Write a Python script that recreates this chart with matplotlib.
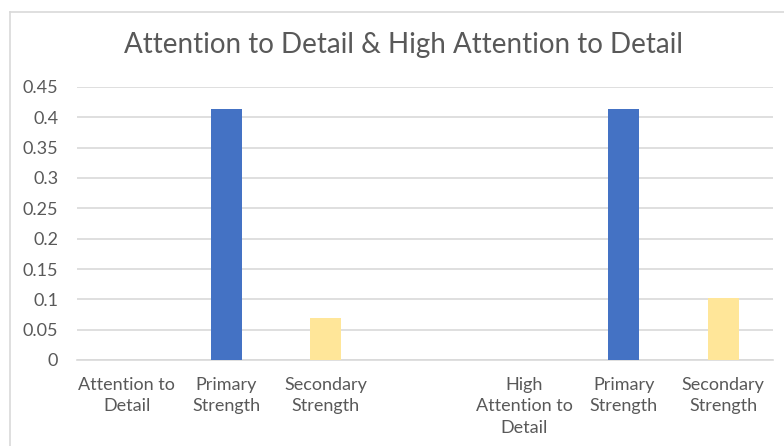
import numpy as np
import matplotlib.pyplot as plt
from matplotlib.lines import Line2D

plt.rcParams['font.family'] = ['Lato', 'DejaVu Sans']

# categories along the x axis (blank slot separates the two groups)
categories = ["Attention to\nDetail", "Primary\nStrength", "Secondary\nStrength", "",
              "High\nAttention to\nDetail", "Primary\nStrength", "Secondary\nStrength"]
values = [0.0, 0.414, 0.069, 0.0, 0.0, 0.414, 0.103]
bar_colors = ["#ED7D31", "#4472C4", "#FFE699", "#FFFFFF",
              "#ED7D31", "#4472C4", "#FFE699"]
yticks = [0, 0.05, 0.1, 0.15, 0.2, 0.25, 0.3, 0.35, 0.4, 0.45]
ytick_labels = ["0", "0.05", "0.1", "0.15", "0.2", "0.25", "0.3", "0.35", "0.4", "0.45"]

text_color = "#595959"
grid_color = "#D9D9D9"

fig = plt.figure(figsize=(7.84, 4.46), dpi=100)
ax = fig.add_axes([77 / 784, 1 - 360 / 446, (773 - 77) / 784, (360 - 87) / 446])

x = np.arange(len(categories))
ax.bar(x, values, width=0.31, color=bar_colors, zorder=3)

ax.set_xlim(-0.5, len(categories) - 0.5)
ax.set_ylim(0, 0.45)
ax.set_yticks(yticks)
ax.set_yticklabels(ytick_labels)
ax.set_xticks(x)
ax.set_xticklabels(categories, linespacing=1.42)

ax.tick_params(axis='y', length=0, pad=13.5, labelsize=13, labelcolor=text_color)
ax.tick_params(axis='x', length=0, pad=12, labelsize=13, labelcolor=text_color)
ax.yaxis.grid(True, color=grid_color, linewidth=1.2, zorder=0)
for side in ["left", "right", "top"]:
    ax.spines[side].set_visible(False)
ax.spines["bottom"].set_color(grid_color)
ax.spines["bottom"].set_linewidth(1.2)

fig.text(404 / 784, 1 - 45 / 446, "Attention to Detail & High Attention to Detail",
         ha='center', va='center', fontsize=20, color=text_color)

# chart frame edges
fig.add_artist(Line2D([10 / 784, 10 / 784], [0, 1 - 12 / 446], color="#D9D9D9", linewidth=1.2))
fig.add_artist(Line2D([10 / 784, 1], [1 - 12 / 446, 1 - 12 / 446], color="#D9D9D9", linewidth=1.2))

fig.savefig("out.png", dpi=100)
